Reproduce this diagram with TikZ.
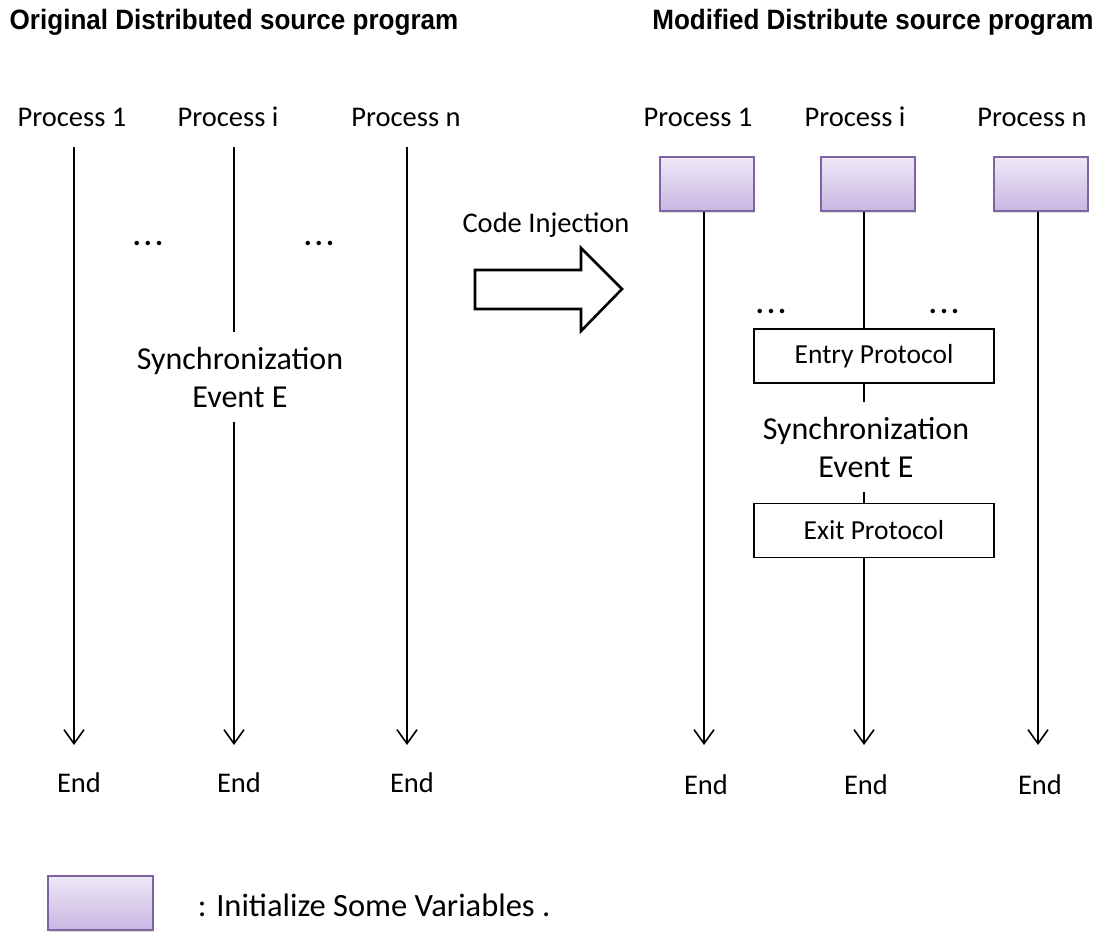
\documentclass[tikz,border=0pt]{standalone}
\usepackage{fontspec}
\setmainfont{Carlito}
\newfontfamily\titlefont[FakeStretch=0.93]{Liberation Sans}
\usepackage{tikz}
\usetikzlibrary{arrows.meta}
\usetikzlibrary{positioning}
\usetikzlibrary{shadows}
\definecolor{initborder}{HTML}{8064A2}
\definecolor{inittop}{HTML}{EEE8F7}
\definecolor{initbot}{HTML}{C9B6E2}
\newcommand{\moredots}{.\kern3pt.\kern3pt.}

\begin{document}
\begin{tikzpicture}[x=1pt, y=-1pt, line width=1.6pt,
    lbl/.style={font=\fontsize{28.5}{30}\selectfont, inner sep=0pt, anchor=base},
    dots/.style={font=\bfseries\fontsize{30}{30}\selectfont, inner sep=0pt, anchor=base},
    title/.style={font=\titlefont\bfseries\fontsize{28}{30}\selectfont, inner sep=0pt},
    sync/.style={font=\fontsize{32}{38}\selectfont, align=center, inner xsep=0pt, inner ysep=14pt},
    flow/.style={-{Straight Barb[length=14pt, width=20pt]}},
    initbox/.style={draw=initborder, line width=2pt, top color=inittop, bottom color=initbot,
                    minimum width=94pt, minimum height=54pt,
                    drop shadow={opacity=0.25, shadow xshift=1pt, shadow yshift=-2pt}},
    protobox/.style={draw, minimum width=240pt, minimum height=54pt, font=\fontsize{27.5}{30}\selectfont}]
  \useasboundingbox (0,0) rectangle (1099,932);

  % titles
  \node[title] (torig) at (234, 22) {Original Distributed source program};
  \node[title] (tmod) at (873, 22) {Modified Distribute source program};

  % original program
  \node[lbl] (lp1) at (72, 126) {Process 1};
  \node[lbl] (lpi) at (228, 126) {Process i};
  \node[lbl] (lpn) at (406, 126) {Process n};
  \coordinate (ls1) at (74, 147);
  \coordinate (lsi) at (234, 147);
  \coordinate (lsn) at (407, 147);
  \node[lbl] (le1) at (79, 792) {End};
  \node[lbl] (lei) at (239, 792) {End};
  \node[lbl] (len) at (412, 792) {End};
  \node[dots] (ldots1) at (148, 245) {\moredots};
  \node[dots] (ldots2) at (319, 245) {\moredots};
  \node[sync] (lsync) at (240, 377) {Synchronization\\Event E};

  \draw[flow] (ls1) -- (ls1 |- 0,745);
  \draw (lsi) -- (lsi |- lsync.north);
  \draw[flow] (lsi |- lsync.south) -- (lsi |- 0,745);
  \draw[flow] (lsn) -- (lsn |- 0,745);

  % code injection
  \node[lbl] (inject) at (546, 232) {Code Injection};
  \draw[line width=2.6pt, line join=miter] (475,270) -- (581,270) -- (581,248) -- (622,289)
    -- (581,331) -- (581,309) -- (475,309) -- cycle;

  % modified program
  \node[lbl] (rp1) at (698, 126) {Process 1};
  \node[lbl] (rpi) at (855, 126) {Process i};
  \node[lbl] (rpn) at (1032, 126) {Process n};
  \node[initbox] (b1) at (707, 184) {};
  \node[initbox] (bi) at (867.5, 184) {};
  \node[initbox] (bn) at (1040.5, 184) {};
  \node[lbl] (re1) at (706, 794) {End};
  \node[lbl] (rei) at (866, 794) {End};
  \node[lbl] (ren) at (1040, 794) {End};
  \node[dots] (rdots1) at (771, 313) {\moredots};
  \node[dots] (rdots2) at (944, 313) {\moredots};
  \node[protobox] (entry) at (874, 356) {Entry Protocol};
  \node[sync] (rsync) at (866, 447) {Synchronization\\Event E};
  \node[protobox] (exit) at (874, 530.5) {Exit Protocol};
  \coordinate (r1) at (704, 0);
  \coordinate (ri) at (864, 0);
  \coordinate (rn) at (1038, 0);

  \draw[flow] (r1 |- b1.south) -- (r1 |- 0,745);
  \draw (ri |- bi.south) -- (ri |- entry.north);
  \draw (ri |- entry.south) -- (ri |- rsync.north);
  \draw (ri |- rsync.south) -- (ri |- exit.north);
  \draw[flow] (ri |- exit.south) -- (ri |- 0,745);
  \draw[flow] (rn |- bn.south) -- (rn |- 0,745);

  % legend
  \node[initbox, minimum width=105pt] (legbox) at (100.5, 903) {};
  \node[lbl, anchor=base west, font=\fontsize{32.5}{34}\selectfont] (legtext) at (197, 916) {: Initialize Some Variables .};
\end{tikzpicture}
\end{document}
